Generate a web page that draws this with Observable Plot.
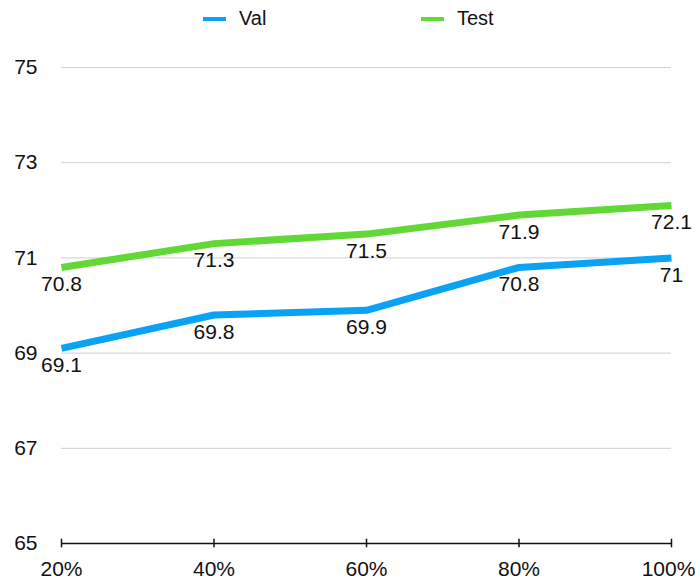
<!DOCTYPE html>
<html>
<head>
<meta charset="utf-8">
<script src="https://cdn.jsdelivr.net/npm/d3@7"></script>
<script src="https://cdn.jsdelivr.net/npm/@observablehq/plot@0.6"></script>
<style>
  html, body { margin: 0; padding: 0; background: #fff; }
  body { width: 695px; height: 582px; overflow: hidden; font-family: "Liberation Sans", Arial, Helvetica, sans-serif; }
  #legend { position: relative; height: 36px; font-size: 20px; color: #111; }
  .item { position: absolute; top: 7px; display: flex; align-items: center; }
  .sw { display: inline-block; width: 23px; height: 4px; margin-right: 13px; }
  #chart svg { display: block; overflow: visible; }
</style>
</head>
<body>
<div id="legend"></div>
<div id="chart"></div>
<script>
const xValues = [20, 40, 60, 80, 100];
const xTickLabels = ["20%", "40%", "60%", "80%", "100%"];
const valValues = [69.1, 69.8, 69.9, 70.8, 71];
const testValues = [70.8, 71.3, 71.5, 71.9, 72.1];
const yTicks = [65, 67, 69, 71, 73, 75];
const seriesNames = ["Val", "Test"];
const seriesColors = ["#0AA2F5", "#61D836"];

const data = [];
xValues.forEach((x, i) => {
  data.push({series: "Val", x, y: valValues[i]});
  data.push({series: "Test", x, y: testValues[i]});
});

// legend
const legend = document.getElementById("legend");
const legendLeft = [203, 421];
seriesNames.forEach((s, i) => {
  const it = document.createElement("div");
  it.className = "item";
  it.style.left = legendLeft[i] + "px";
  it.innerHTML = `<span class="sw" style="background:${seriesColors[i]}"></span><span>${s}</span>`;
  legend.appendChild(it);
});

const fmt = d => xTickLabels[xValues.indexOf(d)];
const lastX = xValues[xValues.length - 1];

const chart = Plot.plot({
  width: 695,
  height: 546,
  marginLeft: 61,
  marginRight: 24,
  marginTop: 31,
  marginBottom: 39,
  style: {fontFamily: "'Liberation Sans', Arial, Helvetica, sans-serif", fontSize: "21px", color: "#111", background: "#fff"},
  x: {domain: [20, 100]},
  y: {domain: [65, 75]},
  color: {domain: seriesNames, range: seriesColors},
  marks: [
    Plot.ruleY(yTicks.filter(t => t > 65), {y: d => d, stroke: "#cfcfcf", strokeWidth: 1}),
    Plot.axisY(yTicks, {tickSize: 0, tickPadding: 24, fontSize: 21, fill: "#111", label: null}),
    Plot.axisX(xValues.slice(0, -1), {tickSize: 0, tickPadding: 18, tickFormat: fmt, fontSize: 21, fill: "#111", label: null}),
    Plot.axisX([lastX], {tickSize: 0, tickPadding: 18, tickFormat: fmt, fontSize: 21, fill: "#111", label: null, dx: -3}),
    Plot.ruleY([65], {stroke: "#111", strokeWidth: 1.5}),
    Plot.ruleX(xValues, {x: d => d, y1: 64.91, y2: 65.09, stroke: "#111", strokeWidth: 1.5}),
    Plot.line(data, {x: "x", y: "y", z: "series", stroke: "series", strokeWidth: 7, strokeLinecap: "butt", strokeLinejoin: "round"}),
    Plot.text(data, {x: "x", y: "y", text: d => String(d.y), dy: 17, fontSize: 21, fill: "#111"})
  ]
});
document.getElementById("chart").appendChild(chart);
</script>
</body>
</html>
